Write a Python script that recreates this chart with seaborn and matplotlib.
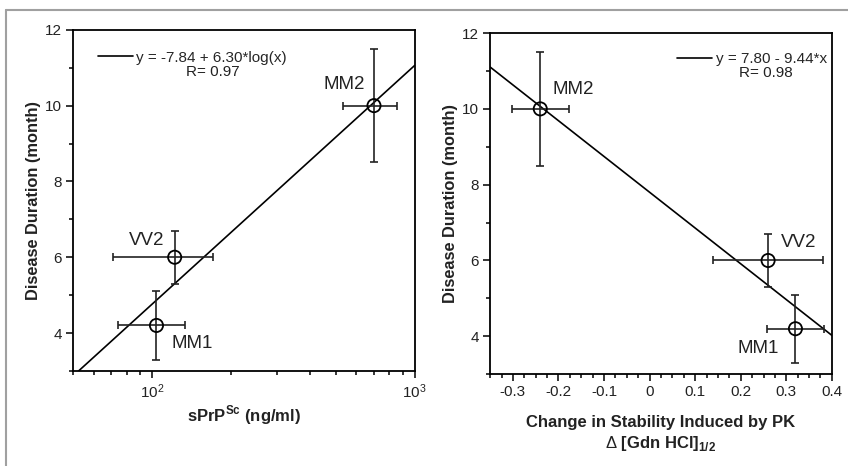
import numpy as np
import pandas as pd
import seaborn as sns
import matplotlib.pyplot as plt
from matplotlib.ticker import MultipleLocator, FixedLocator, FuncFormatter, LogLocator, NullFormatter
from matplotlib.lines import Line2D

# data
strains = ['MM1', 'VV2', 'MM2']
duration = [4.2, 6.0, 10.0]
duration_err = [0.9, 0.7, 1.5]

sprp = [104, 122, 700]
sprp_lo = [30, 51, 168]
sprp_hi = [29, 49, 155]

stability = [0.32, 0.26, -0.24]
stability_err = [0.062, 0.12, 0.062]

fit_log = (-7.84, 6.30)   # y = a + b*log(x)
fit_lin = (7.80, -9.44)   # y = a + b*x

# label offsets in pixels (layout only)
off_left = {'MM1': (36, -18), 'VV2': (-28, 17), 'MM2': (-30, 21)}
off_right = {'MM1': (-37, -20), 'VV2': (31, 18), 'MM2': (33, 19)}

sns.set_theme(style='ticks')
plt.rcParams['font.family'] = ['Liberation Sans', 'DejaVu Sans']
plt.rcParams['axes.unicode_minus'] = False
plt.rcParams['mathtext.fontset'] = 'custom'
plt.rcParams['mathtext.rm'] = 'Liberation Sans'
plt.rcParams['mathtext.bf'] = 'Liberation Sans:bold'

df1 = pd.DataFrame({'strain': strains, 'x': sprp, 'y': duration})
df2 = pd.DataFrame({'strain': strains, 'x': stability, 'y': duration})

fig = plt.figure(figsize=(8.48, 4.66), dpi=100)
ax1 = fig.add_axes([0.086, 0.204, 0.403, 0.732])
ax2 = fig.add_axes([0.578, 0.197, 0.403, 0.732])

# gray outer frame
fig.add_artist(Line2D([6/848, 1], [1-10/466, 1-10/466], color='#a0a0a0', lw=1.5))
fig.add_artist(Line2D([6/848, 6/848], [0, 1-10/466], color='#a0a0a0', lw=1.5))

TXT = '#222222'


def style_axis(ax):
    for s in ax.spines.values():
        s.set_color('black')
        s.set_linewidth(1.3)
    ax.tick_params(which='major', direction='out', length=5, width=1.1, color='black',
                   labelsize=11, labelcolor=TXT, pad=3)
    ax.tick_params(which='minor', direction='out', length=3, width=1.1, color='black')
    ax.set_ylim(3, 12)
    ax.yaxis.set_major_locator(FixedLocator([4, 6, 8, 10, 12]))
    ax.yaxis.set_minor_locator(MultipleLocator(1))
    ax.set_ylabel('Disease Duration (month)', fontsize=11.8, fontweight='bold', labelpad=3,
                  color=TXT)


# left panel
xs = np.geomspace(50, 1000, 100)
sns.lineplot(x=xs, y=fit_log[0] + fit_log[1] * np.log10(xs), ax=ax1, color='black', lw=1.2,
             label='y = -7.84 + 6.30*log(x)')
ax1.errorbar(sprp, duration, yerr=duration_err, xerr=[sprp_lo, sprp_hi], fmt='none',
             ecolor=TXT, elinewidth=1.2, capsize=3, capthick=1.2)
sns.scatterplot(data=df1, x='x', y='y', ax=ax1, s=90, facecolor='none', edgecolor='black',
                linewidth=1.3, zorder=5, legend=False)
ax1.set_xscale('log')
ax1.set_xlim(50, 1000)
ax1.xaxis.set_major_locator(FixedLocator([100, 1000]))
ax1.xaxis.set_major_formatter(FuncFormatter(lambda v, p: r'$\mathregular{10^{%d}}$' % round(np.log10(v))))
ax1.xaxis.set_minor_locator(LogLocator(base=10, subs=np.arange(2, 10)))
ax1.xaxis.set_minor_formatter(NullFormatter())
style_axis(ax1)
ax1.set_xlabel(r'sPrP$^{\mathbf{Sc}}$ (ng/ml)', fontsize=12, fontweight='bold', labelpad=2,
               color=TXT)
for _, r in df1.iterrows():
    ax1.annotate(r['strain'], (r['x'], r['y']), xytext=off_left[r['strain']],
                 textcoords='offset pixels', ha='center', va='center', fontsize=13.5, color=TXT)
ax1.legend(loc='center left', bbox_to_anchor=(0.072, 0.918), frameon=False, fontsize=11,
           handlelength=2.3, handletextpad=0.25, borderaxespad=0, borderpad=0)
ax1.text(0.41, 0.877, 'R= 0.97', transform=ax1.transAxes, ha='center', va='center', fontsize=11,
         color=TXT)

# right panel
xs2 = np.linspace(-0.35, 0.4, 50)
sns.lineplot(x=xs2, y=fit_lin[0] + fit_lin[1] * xs2, ax=ax2, color='black', lw=1.2,
             label='y = 7.80 - 9.44*x')
ax2.errorbar(stability, duration, yerr=duration_err, xerr=stability_err, fmt='none',
             ecolor=TXT, elinewidth=1.2, capsize=3, capthick=1.2)
sns.scatterplot(data=df2, x='x', y='y', ax=ax2, s=90, facecolor='none', edgecolor='black',
                linewidth=1.3, zorder=5, legend=False)
ax2.set_xlim(-0.35, 0.4)
ax2.xaxis.set_major_locator(MultipleLocator(0.1))
ax2.xaxis.set_minor_locator(MultipleLocator(0.025))
ax2.xaxis.set_major_formatter(FuncFormatter(lambda v, p: '0' if abs(v) < 1e-9 else '%.1f' % v))
style_axis(ax2)
ax2.set_xlabel('Change in Stability Induced by PK\n' + r'$\Delta$ [Gdn HCl]$_{\mathbf{1/2}}$',
               fontsize=12, fontweight='bold', labelpad=11, linespacing=1.3, color=TXT)
for _, r in df2.iterrows():
    ax2.annotate(r['strain'], (r['x'], r['y']), xytext=off_right[r['strain']],
                 textcoords='offset pixels', ha='center', va='center', fontsize=13.5, color=TXT)
ax2.legend(loc='center right', bbox_to_anchor=(0.985, 0.924), frameon=False, fontsize=11,
           handlelength=2.3, handletextpad=0.25, borderaxespad=0, borderpad=0)
ax2.text(0.807, 0.883, 'R= 0.98', transform=ax2.transAxes, ha='center', va='center', fontsize=11,
         color=TXT)

fig.savefig('out.png', dpi=100)
